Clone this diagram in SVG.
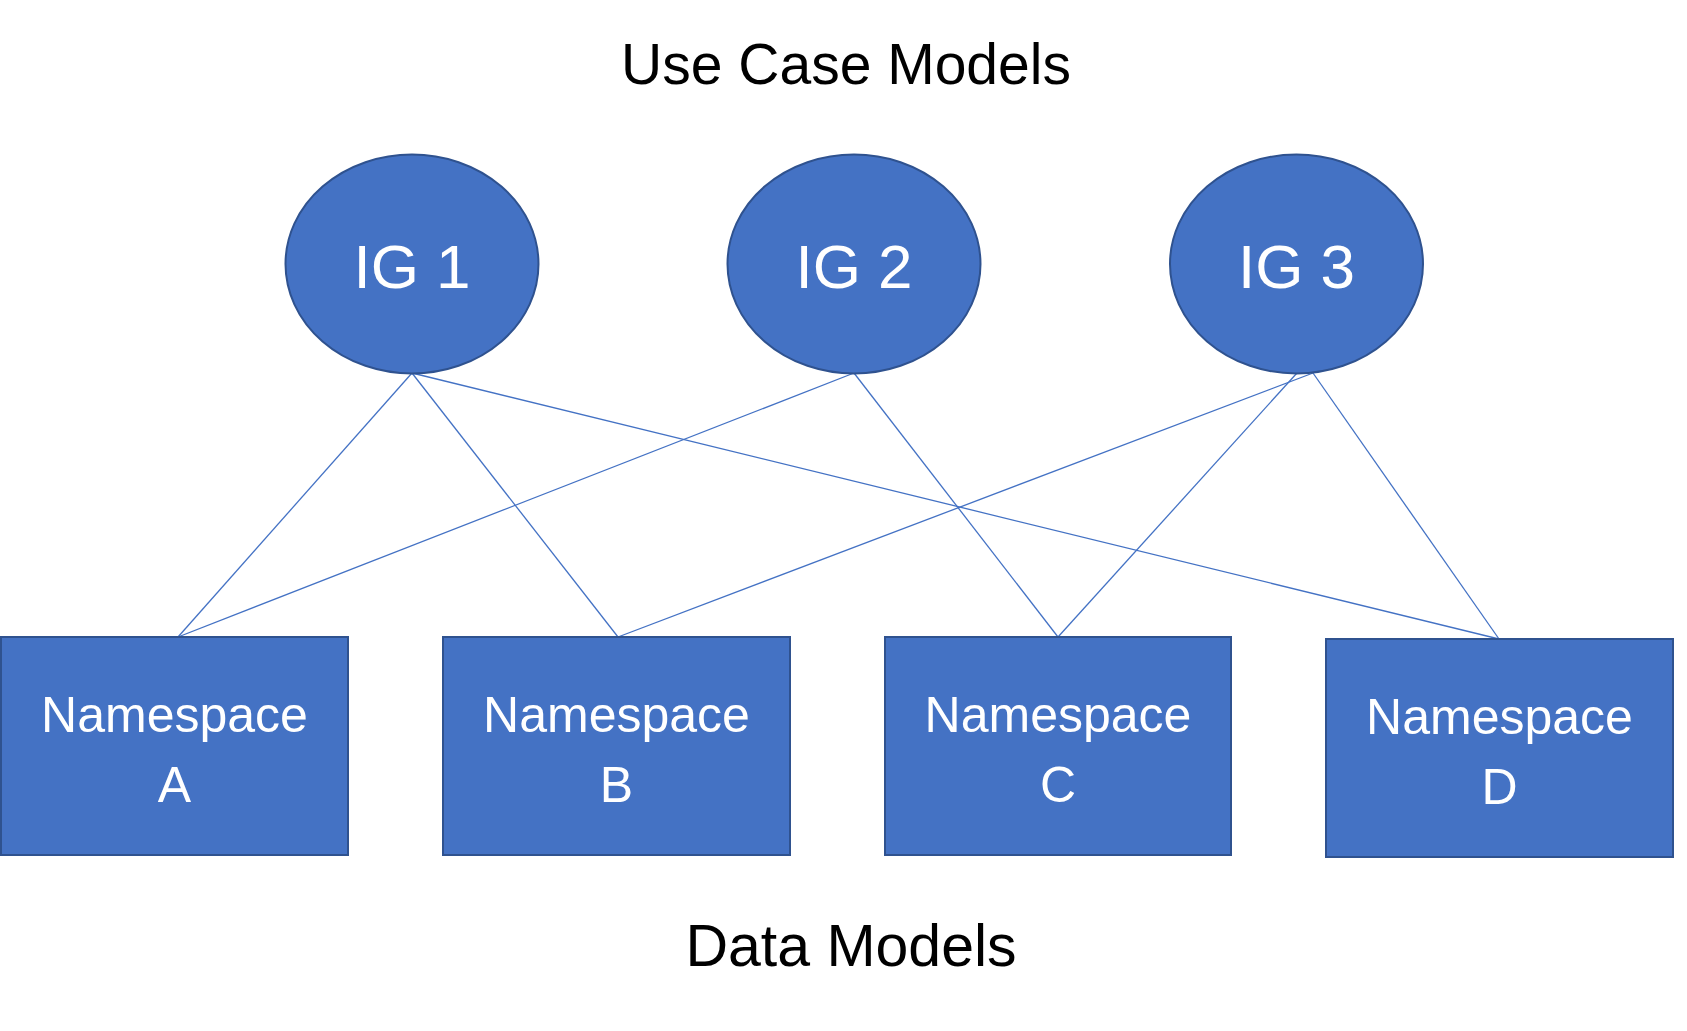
<svg xmlns="http://www.w3.org/2000/svg" width="1687" height="1031" viewBox="0 0 1687 1031">
<style>
.node{fill:#4472C4;stroke:#2F528F;stroke-width:2}
.lbl{fill:#ffffff;font-family:"Liberation Sans",Arial,sans-serif;text-anchor:middle}
.title{fill:#000000;font-family:"Liberation Sans",Arial,sans-serif;text-anchor:middle}
.conn line{stroke:#4472C4;stroke-width:1.3}
</style>
<rect width="1687" height="1031" fill="#ffffff"/>
<text class="title" x="846" y="84" font-size="57">Use Case Models</text>
<text class="title" x="851" y="966" font-size="59">Data Models</text>
<g id="connectors" class="conn">
<line x1="412" y1="373" x2="178" y2="637"/>
<line x1="412" y1="373" x2="618" y2="637"/>
<line x1="412" y1="373" x2="1499" y2="639"/>
<line x1="854" y1="373" x2="178" y2="637"/>
<line x1="854" y1="373" x2="1058" y2="637"/>
<line x1="1313" y1="373" x2="618" y2="637"/>
<line x1="1297" y1="373" x2="1058" y2="637"/>
<line x1="1313" y1="373" x2="1499" y2="639"/>
</g>
<g id="ig1"><ellipse class="node" cx="412" cy="264" rx="126.5" ry="109.5"/><text class="lbl" x="412" y="288" font-size="62">IG 1</text></g>
<g id="ig2"><ellipse class="node" cx="854" cy="264" rx="126.5" ry="109.5"/><text class="lbl" x="854" y="288" font-size="62">IG 2</text></g>
<g id="ig3"><ellipse class="node" cx="1296.5" cy="264" rx="126.5" ry="109.5"/><text class="lbl" x="1296.5" y="288" font-size="62">IG 3</text></g>
<g id="nsA"><rect class="node" x="1" y="637" width="347" height="218"/><text class="lbl" x="174.5" y="732" font-size="50">Namespace</text><text class="lbl" x="174.5" y="802" font-size="50">A</text></g>
<g id="nsB"><rect class="node" x="443" y="637" width="347" height="218"/><text class="lbl" x="616.5" y="732" font-size="50">Namespace</text><text class="lbl" x="616.5" y="802" font-size="50">B</text></g>
<g id="nsC"><rect class="node" x="885" y="637" width="346" height="218"/><text class="lbl" x="1058" y="732" font-size="50">Namespace</text><text class="lbl" x="1058" y="802" font-size="50">C</text></g>
<g id="nsD"><rect class="node" x="1326" y="639" width="347" height="218"/><text class="lbl" x="1499.5" y="734" font-size="50">Namespace</text><text class="lbl" x="1499.5" y="804" font-size="50">D</text></g>
</svg>
